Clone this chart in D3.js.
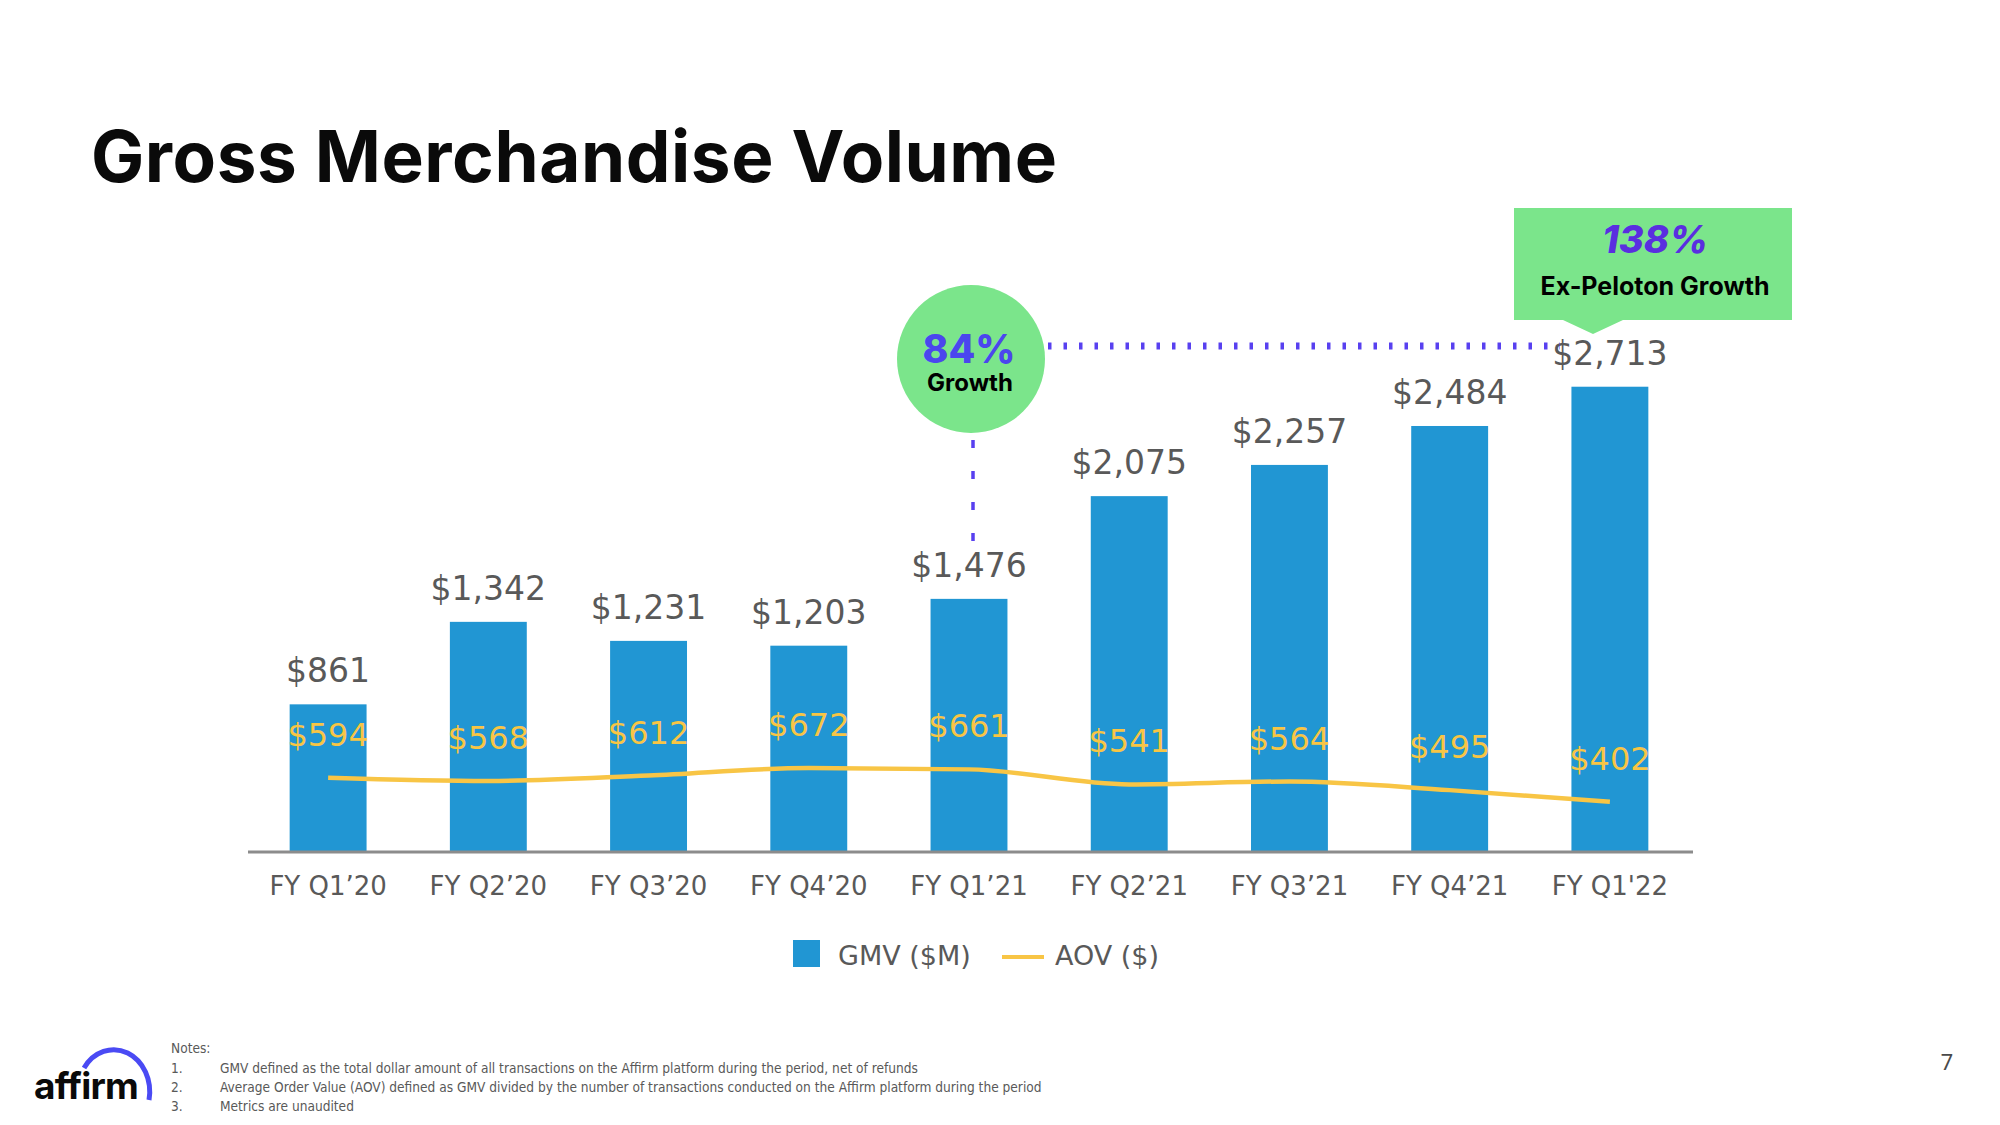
<!DOCTYPE html>
<html lang="en">
<head>
<meta charset="utf-8">
<title>Gross Merchandise Volume</title>
<script src="https://cdn.jsdelivr.net/npm/d3@7"></script>
<style>
  body { margin: 0; background: #fff; }
</style>
</head>
<body>
<div id="chart"></div>
<script>
// data
var quarters = ["FY Q1\u201920", "FY Q2\u201920", "FY Q3\u201920", "FY Q4\u201920", "FY Q1\u201921",
                "FY Q2\u201921", "FY Q3\u201921", "FY Q4\u201921", "FY Q1'22"];
var gmv = [861, 1342, 1231, 1203, 1476, 2075, 2257, 2484, 2713];   // $M
var aov = [594, 568, 612, 672, 661, 541, 564, 495, 402];           // $
var notes = [
  "GMV defined as the total dollar amount of all transactions on the Affirm platform during the period, net of refunds",
  "Average Order Value (AOV) defined as GMV divided by the number of transactions conducted on the Affirm platform during the period",
  "Metrics are unaudited"
];

var W = 2000, H = 1125;
var gray = "#595959", blue = "#2196D3", yellow = "#F8C545", green = "#7BE58B", purple = "#5840F0";
var labelFont = "'DejaVu Sans', Verdana, sans-serif";
var headFont = "Inter, 'Open Sans', sans-serif";

var svg = d3.select("#chart").append("svg")
  .attr("width", W).attr("height", H);

// title, spaced out to the slide's width
var title = svg.append("text")
  .attr("x", 91).attr("y", 182)
  .attr("font-family", headFont).attr("font-weight", 700)
  .attr("font-size", 71).attr("fill", "#0a0a0a")
  .text("Gross Merchandise Volume");
var tl = title.node().getComputedTextLength();
title.attr("letter-spacing", (966 - tl) / 23);

// scales
var x = d3.scaleBand().domain(quarters).range([248, 1690]).paddingInner(0.52).paddingOuter(0.26);
var y = d3.scaleLinear().domain([0, 3000]).range([852, 337.5]);
var y2 = d3.scaleLinear().domain([0, 4000]).range([852, 352]);
var cx = function(d, i) { return x(quarters[i]) + x.bandwidth() / 2; };

// bars
svg.selectAll("rect.bar")
  .data(gmv).enter().append("rect")
  .attr("class", "bar")
  .attr("x", function(d, i) { return x(quarters[i]); })
  .attr("y", function(d) { return y(d); })
  .attr("width", x.bandwidth())
  .attr("height", function(d) { return y(0) - y(d); })
  .attr("fill", blue);

// bar value labels
svg.selectAll("text.gmv")
  .data(gmv).enter().append("text")
  .attr("class", "gmv")
  .attr("x", cx)
  .attr("y", function(d) { return y(d) - 22; })
  .attr("text-anchor", "middle")
  .attr("font-family", labelFont).attr("font-size", 33).attr("fill", gray)
  .text(function(d) { return "$" + d3.format(",")(d); });

// x axis
var xAxis = svg.append("g")
  .attr("transform", "translate(0," + y(0) + ")")
  .call(d3.axisBottom(x).tickSize(0).tickPadding(25));
xAxis.select(".domain").attr("stroke", "#8c8c8c").attr("stroke-width", 3)
  .attr("d", "M248,0H1693");
xAxis.selectAll(".tick text")
  .attr("font-family", labelFont).attr("font-size", 26).attr("fill", gray);

// AOV line
var line = d3.line()
  .x(cx)
  .y(function(d) { return y2(d); })
  .curve(d3.curveMonotoneX);
svg.append("path")
  .datum(aov)
  .attr("d", line)
  .attr("fill", "none").attr("stroke", yellow).attr("stroke-width", 4.5);

svg.selectAll("text.aov")
  .data(aov).enter().append("text")
  .attr("class", "aov")
  .attr("x", cx)
  .attr("y", function(d) { return y2(d) - 32; })
  .attr("text-anchor", "middle")
  .attr("font-family", labelFont).attr("font-size", 32).attr("fill", yellow)
  .text(function(d) { return "$" + d; });

// 84% growth bubble + dotted connectors
svg.append("line")
  .attr("x1", 973).attr("x2", 973).attr("y1", 440).attr("y2", 545)
  .attr("stroke", purple).attr("stroke-width", 3.5).attr("stroke-dasharray", "8 23");
svg.append("line")
  .attr("x1", 1048).attr("x2", 1560).attr("y1", 346).attr("y2", 346)
  .attr("stroke", purple).attr("stroke-width", 7).attr("stroke-dasharray", "3.5 12");
svg.append("circle")
  .attr("cx", 971).attr("cy", 359).attr("r", 74).attr("fill", green);
svg.append("text")
  .attr("x", 969).attr("y", 363).attr("text-anchor", "middle")
  .attr("font-family", "Inter, sans-serif").attr("font-weight", 800)
  .attr("font-size", 39).attr("fill", "#4B46EE").text("84%");
svg.append("text")
  .attr("x", 970).attr("y", 391).attr("text-anchor", "middle")
  .attr("font-family", "Inter, sans-serif").attr("font-weight", 700)
  .attr("font-size", 24).attr("fill", "#000").text("Growth");

// 138% callout box
svg.append("path")
  .attr("d", "M1514,208H1792V320H1623L1593,334L1563,320H1514Z")
  .attr("fill", green);
svg.append("text")
  .attr("x", 1655).attr("y", 253).attr("text-anchor", "middle")
  .attr("font-family", "Inter, sans-serif").attr("font-weight", 800).attr("font-style", "italic")
  .attr("font-size", 38).attr("fill", "#5A2EE0").text("138%");
svg.append("text")
  .attr("x", 1655).attr("y", 295).attr("text-anchor", "middle")
  .attr("font-family", "Inter, sans-serif").attr("font-weight", 700)
  .attr("font-size", 25).attr("fill", "#000").text("Ex-Peloton Growth");

// legend
var lg = svg.append("g");
lg.append("rect").attr("x", 793).attr("y", 940).attr("width", 27).attr("height", 27).attr("fill", blue);
lg.append("text").attr("x", 838).attr("y", 965)
  .attr("font-family", labelFont).attr("font-size", 27).attr("fill", gray).text("GMV ($M)");
lg.append("line").attr("x1", 1002).attr("x2", 1044).attr("y1", 957).attr("y2", 957)
  .attr("stroke", yellow).attr("stroke-width", 4);
lg.append("text").attr("x", 1055).attr("y", 965)
  .attr("font-family", labelFont).attr("font-size", 27).attr("fill", gray).text("AOV ($)");

// footnotes
var noteFont = "'Liberation Sans Narrow', 'DejaVu Sans Condensed', sans-serif";
svg.append("text").attr("x", 171).attr("y", 1053)
  .attr("font-family", noteFont).attr("font-size", 13.6).attr("fill", gray).text("Notes:");
notes.forEach(function(n, i) {
  svg.append("text").attr("x", 171).attr("y", 1073 + i * 19)
    .attr("font-family", noteFont).attr("font-size", 13.6).attr("fill", gray).text((i + 1) + ".");
  svg.append("text").attr("x", 220).attr("y", 1073 + i * 19)
    .attr("font-family", noteFont).attr("font-size", 13.6).attr("fill", gray).text(n);
});

// affirm logo
svg.append("path")
  .attr("d", "M84,1068 A36,42 0 0 1 149,1100")
  .attr("fill", "none").attr("stroke", "#4A4AF4").attr("stroke-width", 5);
svg.append("text").attr("x", 34).attr("y", 1099)
  .attr("font-family", "Inter, sans-serif").attr("font-weight", 700)
  .attr("font-size", 37).attr("fill", "#0a0a0a").attr("letter-spacing", -0.8).text("affirm");

// page number
svg.append("text").attr("x", 1947).attr("y", 1070).attr("text-anchor", "middle")
  .attr("font-family", "Roboto, sans-serif").attr("font-size", 22).attr("fill", "#4a4a4a").text("7");
</script>
</body>
</html>
